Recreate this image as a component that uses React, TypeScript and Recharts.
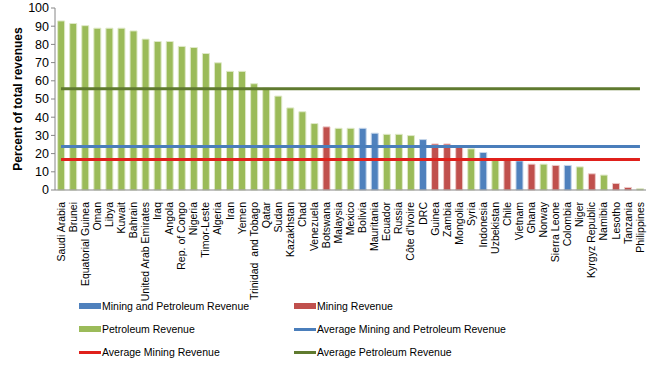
import { ComposedChart, Bar, Line, XAxis, YAxis, Cell, Legend } from "recharts";

// share of total government revenue, sorted descending
const countries = [
  "Saudi Arabia", "Brunei", "Equatorial Guinea", "Oman", "Libya", "Kuwait", "Bahrain",
  "United Arab Emirates", "Iraq", "Angola", "Rep. of Congo", "Nigeria", "Timor-Leste",
  "Algeria", "Iran", "Yemen", "Trinidad  and Tobago", "Qatar", "Sudan", "Kazakhstan",
  "Chad", "Venezuela", "Botswana", "Malaysia", "Mexico", "Bolivia", "Mauritania",
  "Ecuador", "Russia", "Côte d'Ivoire", "DRC", "Guinea", "Zambia", "Mongolia", "Syria",
  "Indonesia", "Uzbekistan", "Chile", "Vietnam", "Ghana", "Norway", "Sierra Leone",
  "Colombia", "Niger", "Kyrgyz Republic", "Namibia", "Lesotho", "Tanzania", "Philippines",
];

const shares = [
  92.9, 91.5, 90.3, 88.9, 88.9, 88.9, 87.4, 82.9, 81.6, 81.6, 78.9, 78.3, 75.0, 69.9,
  65.2, 65.2, 58.4, 56.0, 51.6, 45.1, 43.0, 36.5, 34.7, 33.9, 33.9, 33.9, 31.2, 30.6,
  30.6, 29.9, 27.7, 25.3, 25.3, 23.8, 22.6, 20.6, 17.0, 17.0, 16.0, 14.2, 14.2, 13.5,
  13.5, 12.7, 8.9, 8.2, 3.6, 1.4, 0.7,
];

// P = petroleum, M = mining, MP = mining and petroleum
const revenueTypes = [
  "P", "P", "P", "P", "P", "P", "P", "P", "P", "P", "P", "P", "P", "P", "P", "P", "P",
  "P", "P", "P", "P", "P", "M", "P", "P", "MP", "MP", "P", "P", "P", "MP", "M", "M",
  "M", "P", "MP", "P", "M", "MP", "M", "P", "M", "MP", "P", "M", "P", "M", "M", "P",
];

const avgMiningPetroleum = 23.9;
const avgMining = 16.7;
const avgPetroleum = 55.7;

const yTicks = [0, 10, 20, 30, 40, 50, 60, 70, 80, 90, 100];
const boundaryTicks = countries.map((_, i) => i).concat([countries.length]);

const FILL: Record<string, string> = { MP: "#4F81BD", M: "#C0504D", P: "#9BBB59" };
const EDGE: Record<string, string> = { MP: "#c6d6ea", M: "#ecc9c8", P: "#dfe9c8" };
const AXIS = "#868686";
const FONT = "'Liberation Sans', Arial, sans-serif";

const data = countries.map((name, i) => ({
  name,
  idx: i,
  share: shares[i],
  type: revenueTypes[i],
  avgMP: avgMiningPetroleum,
  avgM: avgMining,
  avgP: avgPetroleum,
}));

const legendItems = [
  { label: "Mining and Petroleum Revenue", color: FILL.MP, kind: "bar" },
  { label: "Mining Revenue", color: FILL.M, kind: "bar" },
  { label: "Petroleum Revenue", color: FILL.P, kind: "bar" },
  { label: "Average Mining and Petroleum Revenue", color: "#4A7EBB", kind: "line" },
  { label: "Average Mining Revenue", color: "#E0201B", kind: "line" },
  { label: "Average Petroleum Revenue", color: "#5F7A2F", kind: "line" },
];

const CountryTick = (props: any) => {
  const { x, y, payload } = props;
  return (
    <text
      x={x}
      y={y + 4}
      transform={`rotate(-90, ${x}, ${y + 4})`}
      textAnchor="end"
      dy="0.35em"
      fontSize={10.5}
      fill="#000"
      style={{ whiteSpace: "pre" }}
    >
      {payload.value}
    </text>
  );
};

const renderLegend = () => (
  <div style={{ position: "relative", width: 650, height: 70, fontFamily: FONT, fontSize: 10.5, color: "#000" }}>
    {legendItems.map((it, i) => {
      const col = i % 2;
      const row = Math.floor(i / 2);
      return (
        <div
          key={it.label}
          style={{ position: "absolute", left: 79 + col * 215, top: row * 23, display: "flex", alignItems: "center", height: 18, whiteSpace: "nowrap" }}
        >
          <span style={{ display: "inline-block", width: 22, height: it.kind === "bar" ? 6 : 3, background: it.color, marginRight: 1 }} />
          <span>{it.label}</span>
        </div>
      );
    })}
  </div>
);

export default function App() {
  return (
    <div style={{ position: "absolute", left: 0, top: 0, width: 650, height: 368, background: "#fff" }}>
      <ComposedChart
        width={650}
        height={368}
        data={data}
        margin={{ top: 8, right: 4, bottom: 68, left: 0 }}
        barCategoryGap="22%"
        style={{ fontFamily: FONT }}
      >
        <XAxis
          xAxisId="bounds"
          type="number"
          dataKey="idx"
          domain={[0, countries.length]}
          ticks={boundaryTicks}
          interval={0}
          tick={false}
          axisLine={false}
          tickLine={{ stroke: AXIS }}
          tickSize={4}
          height={0}
        />
        <XAxis
          dataKey="name"
          interval={0}
          tick={<CountryTick />}
          tickLine={false}
          axisLine={{ stroke: AXIS }}
          height={110}
        />
        <YAxis
          domain={[0, 100]}
          ticks={yTicks}
          interval={0}
          width={55}
          tickSize={4}
          tickMargin={2}
          axisLine={{ stroke: AXIS }}
          tickLine={{ stroke: AXIS }}
          tick={{ fontSize: 12.5, fill: "#000" }}
          label={{
            content: (p: any) => {
              const vb = p.viewBox || {};
              const cy = (vb.y || 0) + (vb.height || 0) / 2;
              return (
                <text
                  x={18}
                  y={cy}
                  transform={`rotate(-90, 18, ${cy})`}
                  textAnchor="middle"
                  dominantBaseline="central"
                  fontSize={12}
                  fontWeight="bold"
                  fill="#000"
                >
                  Percent of total revenues
                </text>
              );
            },
          }}
        />
        <Bar dataKey="share" isAnimationActive={false}>
          {data.map((d) => (
            <Cell key={d.name} fill={FILL[d.type]} stroke={EDGE[d.type]} strokeWidth={1} />
          ))}
        </Bar>
        <Line dataKey="avgP" stroke="#5F7A2F" strokeWidth={3} dot={false} activeDot={false} isAnimationActive={false} />
        <Line dataKey="avgMP" stroke="#4A7EBB" strokeWidth={3} dot={false} activeDot={false} isAnimationActive={false} />
        <Line dataKey="avgM" stroke="#E0201B" strokeWidth={3} dot={false} activeDot={false} isAnimationActive={false} />
        <Legend
          layout="horizontal"
          verticalAlign="middle"
          align="center"
          content={renderLegend}
          wrapperStyle={{ position: "absolute", top: 297, left: 0, width: 650 }}
        />
      </ComposedChart>
    </div>
  );
}
